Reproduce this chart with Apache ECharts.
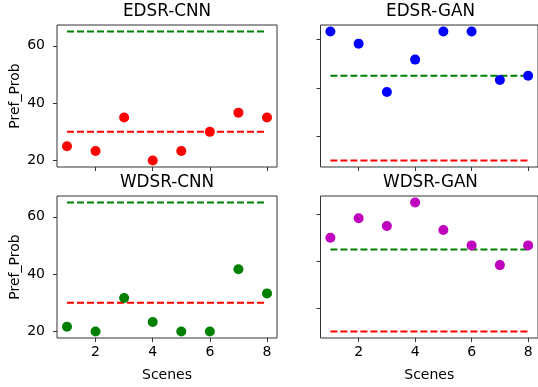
<!DOCTYPE html>
<html>
<head>
<meta charset="utf-8">
<script src="https://cdn.jsdelivr.net/npm/echarts@6/dist/echarts.min.js"></script>
<style>
  html, body { margin: 0; padding: 0; background: #fff; }
  #chart { width: 538px; height: 387px; }
</style>
</head>
<body>
<div id="chart"></div>
<script>
// data
const scenes = [1, 2, 3, 4, 5, 6, 7, 8]
const edsrCnn = [25, 23.3, 35, 20, 23.3, 30, 36.7, 35]
const edsrGan = [63.3, 58.3, 38.3, 51.7, 63.3, 63.3, 43.3, 45]
const wdsrCnn = [21.7, 20, 31.7, 23.3, 20, 20, 41.7, 33.3]
const wdsrGan = [50, 58.3, 55, 65, 53.3, 46.7, 38.3, 46.7]
const cnnGreen = 65, cnnRed = 30
const ganGreen = 45, ganRed = 10
const xTicks = [2, 4, 6, 8]
const yTicks = [20, 40, 60]

const font = 'DejaVu Sans'
const panels = [
  { title: 'EDSR-CNN', vals: edsrCnn, color: '#ff0000', green: cnnGreen, red: cnnRed, left: 57, top: 25, ymin: 17.75, ymax: 67.25, yLabels: true, xLabels: false },
  { title: 'EDSR-GAN', vals: edsrGan, color: '#0000ff', green: ganGreen, red: ganRed, left: 320.5, top: 25, ymin: 7.33, ymax: 66, yLabels: false, xLabels: false },
  { title: 'WDSR-CNN', vals: wdsrCnn, color: '#008000', green: cnnGreen, red: cnnRed, left: 57, top: 196, ymin: 17.75, ymax: 67.25, yLabels: true, xLabels: true },
  { title: 'WDSR-GAN', vals: wdsrGan, color: '#bf00bf', green: ganGreen, red: ganRed, left: 320.5, top: 196, ymin: 7.25, ymax: 67.75, yLabels: false, xLabels: true }
]
const W = 220, H = 142

const chart = echarts.init(document.getElementById('chart'), null, { renderer: 'canvas' })

const grid = [], xAxis = [], yAxis = [], series = [], title = []
panels.forEach((p, i) => {
  grid.push({
    left: p.left, top: p.top, width: W, height: H,
    show: true, borderColor: '#333', borderWidth: 1, backgroundColor: 'transparent'
  })
  title.push({
    text: p.title,
    left: p.left + W / 2,
    top: p.top - 22,
    textAlign: 'center',
    padding: 0,
    textStyle: { fontFamily: font, fontSize: 16.8, fontWeight: 'normal', color: '#000' }
  })
  xAxis.push({
    type: 'value', gridIndex: i, min: 0.65, max: 8.35,
    splitLine: { show: false },
    axisLine: { show: false },
    axisTick: { show: true, length: 4, customValues: xTicks, lineStyle: { color: '#333' } },
    axisLabel: { show: p.xLabels, customValues: xTicks, margin: 7, fontFamily: font, fontSize: 14, color: '#000' },
    name: p.xLabels ? 'Scenes' : '',
    nameLocation: 'middle', nameGap: 30,
    nameTextStyle: { fontFamily: font, fontSize: 14, color: '#000' }
  })
  yAxis.push({
    type: 'value', gridIndex: i, min: p.ymin, max: p.ymax,
    splitLine: { show: false },
    axisLine: { show: false },
    axisTick: { show: true, length: 4, customValues: yTicks, lineStyle: { color: '#333' } },
    axisLabel: { show: p.yLabels, customValues: yTicks, margin: 12, fontFamily: font, fontSize: 14, color: '#000' },
    name: p.yLabels ? 'Pref_Prob' : '',
    nameLocation: 'middle', nameGap: 35,
    nameTextStyle: { fontFamily: font, fontSize: 14, color: '#000' }
  })
  series.push({
    type: 'line', xAxisIndex: i, yAxisIndex: i, symbol: 'none', z: 2,
    data: [[scenes[0], p.green], [scenes[scenes.length - 1], p.green]],
    lineStyle: { color: '#008000', width: 2, type: [7, 3] }
  })
  series.push({
    type: 'line', xAxisIndex: i, yAxisIndex: i, symbol: 'none', z: 2,
    data: [[scenes[0], p.red], [scenes[scenes.length - 1], p.red]],
    lineStyle: { color: '#ff0000', width: 2, type: [7, 3] }
  })
  series.push({
    type: 'scatter', xAxisIndex: i, yAxisIndex: i, symbolSize: 10, z: 3,
    data: scenes.map((s, k) => [s, p.vals[k]]),
    itemStyle: { color: p.color, opacity: 1 }
  })
})

chart.setOption({
  animation: false,
  backgroundColor: '#fff',
  title: title,
  grid: grid,
  xAxis: xAxis,
  yAxis: yAxis,
  series: series
})
</script>
</body>
</html>
